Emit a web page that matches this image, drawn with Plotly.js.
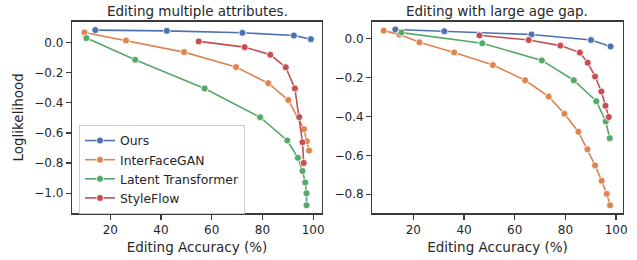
<!DOCTYPE html>
<html><head><meta charset="utf-8">
<script src="https://cdn.plot.ly/plotly-3.0.1.min.js"></script>
<style>html,body{margin:0;padding:0;background:#fff}#c{width:637px;height:260px}</style>
</head><body><div id="c"></div>
<script>
// Panel 1: Editing multiple attributes
const multiOursX = [14.1, 42.3, 72.1, 92.4, 99.1];
const multiOursY = [0.082, 0.077, 0.064, 0.046, 0.022];
const multiIfgX = [9.8, 26.2, 49.1, 69.6, 82.3, 90.2, 96.4, 97.5, 98.4];
const multiIfgY = [0.066, 0.013, -0.064, -0.163, -0.27, -0.382, -0.575, -0.655, -0.717];
const multiLtX = [10.6, 29.8, 57.2, 79.1, 89.8, 94.0, 95.8, 96.9, 97.4, 97.4];
const multiLtY = [0.029, -0.115, -0.305, -0.496, -0.650, -0.765, -0.852, -0.929, -1.0, -1.08];
const multiSfX = [54.9, 73.0, 83.1, 89.2, 92.8, 94.5, 95.8, 96.3];
const multiSfY = [0.007, -0.031, -0.082, -0.164, -0.305, -0.495, -0.662, -0.799];
// Panel 2: Editing with large age gap
const ageOursX = [12.9, 32.2, 66.6, 90.1, 97.8];
const ageOursY = [0.047, 0.038, 0.021, -0.007, -0.040];
const ageIfgX = [8.3, 14.5, 22.4, 36.1, 51.4, 64.1, 73.4, 79.6, 85.1, 88.7, 91.7, 94.3, 96.3, 97.6];
const ageIfgY = [0.041, 0.021, -0.019, -0.071, -0.136, -0.214, -0.298, -0.386, -0.479, -0.569, -0.652, -0.731, -0.798, -0.857];
const ageLtX = [15.3, 47.2, 70.7, 83.3, 92.2, 95.9, 97.5];
const ageLtY = [0.031, -0.024, -0.112, -0.214, -0.322, -0.426, -0.512];
const ageSfX = [46.1, 65.5, 78.0, 85.7, 88.8, 91.7, 94.2, 95.8, 97.1];
const ageSfY = [0.017, -0.007, -0.036, -0.072, -0.124, -0.195, -0.272, -0.345, -0.403];

const names = ["Ours", "InterFaceGAN", "Latent Transformer", "StyleFlow"];
const colors = ["#4C72B0", "#DD8452", "#55A868", "#C44E52"];
const panel1 = [[multiOursX, multiOursY], [multiIfgX, multiIfgY], [multiLtX, multiLtY], [multiSfX, multiSfY]];
const panel2 = [[ageOursX, ageOursY], [ageIfgX, ageIfgY], [ageLtX, ageLtY], [ageSfX, ageSfY]];

const font = "DejaVu Sans, sans-serif";
const txt = "#262626";
const traces = [];
panel1.forEach((d, i) => traces.push({
  x: d[0], y: d[1], name: names[i], mode: "lines+markers", xaxis: "x", yaxis: "y",
  line: {color: colors[i], width: 1.6},
  marker: {color: colors[i], size: 7, line: {color: "#fff", width: 0.8}}
}));
panel2.forEach((d, i) => traces.push({
  x: d[0], y: d[1], name: names[i], mode: "lines+markers", xaxis: "x2", yaxis: "y2", showlegend: false,
  line: {color: colors[i], width: 1.6},
  marker: {color: colors[i], size: 7, line: {color: "#fff", width: 0.8}}
}));

const axBase = {
  showline: true, mirror: true, linecolor: "#3a3a3a", linewidth: 1.25, showgrid: false, zeroline: false,
  ticks: "outside", ticklen: 5, tickwidth: 1.25, tickcolor: "#3a3a3a",
  tickfont: {family: font, size: 12, color: txt}
};
const titleFont = {family: font, size: 13.5, color: txt};
const yTop = 1 - 21.5 / 260, yBot = 1 - 213.3 / 260;
const layout = {
  width: 637, height: 260, margin: {l: 0, r: 0, t: 0, b: 0},
  paper_bgcolor: "#fff", plot_bgcolor: "#fff", font: {family: font, color: txt},
  xaxis: Object.assign({}, axBase, {domain: [72 / 637, 322 / 637], range: [4.9, 103.5], tickvals: [20, 40, 60, 80, 100],
    title: {text: "Editing Accuracy (%)", font: titleFont, standoff: 6}}),
  yaxis: Object.assign({}, axBase, {domain: [yBot, yTop], range: [-1.133, 0.139], tickvals: [0, -0.2, -0.4, -0.6, -0.8, -1.0], tickformat: ".1f",
    title: {text: "Loglikelihood", font: titleFont, standoff: 7}}),
  xaxis2: Object.assign({}, axBase, {domain: [372.3 / 637, 622.7 / 637], range: [3.8, 102.6], tickvals: [20, 40, 60, 80, 100], anchor: "y2",
    title: {text: "Editing Accuracy (%)", font: titleFont, standoff: 6}}),
  yaxis2: Object.assign({}, axBase, {domain: [yBot, yTop], range: [-0.898, 0.088], tickvals: [0, -0.2, -0.4, -0.6, -0.8], tickformat: ".1f", anchor: "x2"}),
  legend: {x: 79 / 637, y: 1 - 125 / 260, xanchor: "left", yanchor: "top", bgcolor: "#fff", bordercolor: "#cccccc", borderwidth: 1,
    font: {family: font, size: 12.4, color: txt}, tracegroupgap: 0},
  annotations: [
    {text: "Editing multiple attributes.", xref: "paper", yref: "paper", x: 197 / 637, y: 1 - 11 / 260, xanchor: "center", yanchor: "middle", showarrow: false, font: titleFont},
    {text: "Editing with large age gap.", xref: "paper", yref: "paper", x: 497.5 / 637, y: 1 - 11 / 260, xanchor: "center", yanchor: "middle", showarrow: false, font: titleFont}
  ]
};
Plotly.newPlot("c", traces, layout, {displayModeBar: false, staticPlot: true});
</script></body></html>
